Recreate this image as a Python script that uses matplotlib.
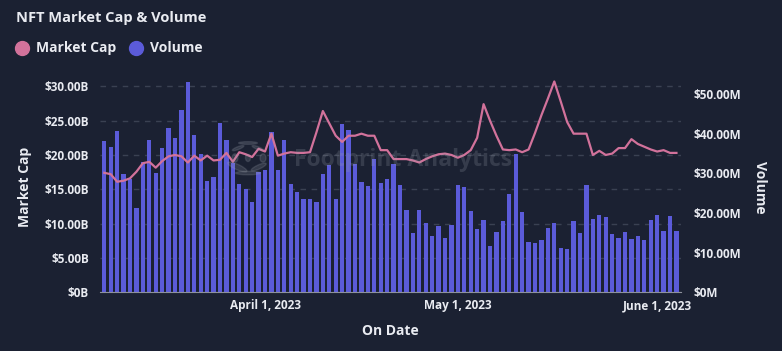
import matplotlib
matplotlib.use("Agg")
from matplotlib import pyplot as plt
from matplotlib.lines import Line2D
from matplotlib.patches import Ellipse
import numpy as np
import pandas as pd

# Dados diários (07/03/2023 a 04/06/2023)
datas = pd.date_range("2023-03-07", "2023-06-04", freq="D")

market_cap_b = [
    17.4, 17.2, 16.1, 16.25, 16.6, 17.56, 18.8, 19.0, 18.15, 19.1,
    19.8, 20.0, 19.8, 18.9, 19.9, 19.2, 19.9, 19.2, 19.3, 20.3,
    19.0, 20.4, 20.1, 19.7, 20.9, 20.5, 23.1, 19.9, 20.2, 20.4,
    20.3, 20.3, 20.4, 23.3, 26.4, 24.6, 22.8, 21.9, 22.8, 22.8,
    23.1, 22.8, 22.8, 20.7, 20.7, 19.4, 19.4, 19.4, 19.2, 18.9,
    19.4, 19.8, 20.1, 20.2, 20.0, 19.6, 20.0, 20.7, 22.5, 27.4,
    25.0, 22.8, 20.8, 20.7, 20.8, 20.4, 20.8, 23.2, 25.8, 28.2,
    30.7, 27.8, 24.8, 23.1, 23.1, 23.1, 20.0, 20.6, 20.0, 20.2,
    21.0, 21.0, 22.3, 21.6, 21.2, 20.8, 20.5, 20.7, 20.3, 20.3,
]

volume_m = [
    38.2, 36.7, 40.7, 29.9, 28.5, 21.3, 32.8, 38.5, 30.2, 36.4,
    41.5, 38.9, 46.0, 53.1, 39.7, 34.9, 28.1, 29.2, 42.7, 38.5,
    32.7, 27.4, 26.1, 22.9, 30.4, 30.9, 40.5, 30.9, 38.5, 27.4,
    25.4, 23.6, 23.6, 22.9, 29.9, 32.2, 23.6, 42.5, 41.0, 32.4,
    27.8, 26.9, 33.7, 27.7, 28.6, 32.3, 27.2, 20.9, 15.1, 20.9,
    17.6, 14.3, 16.7, 13.8, 17.1, 27.2, 26.7, 20.6, 15.9, 18.3,
    11.8, 15.3, 18.0, 24.9, 34.9, 20.4, 12.8, 12.5, 13.3, 16.3,
    17.6, 11.3, 11.0, 18.0, 15.1, 27.2, 18.5, 19.5, 19.1, 14.8,
    13.8, 15.3, 13.5, 14.3, 13.3, 18.2, 19.5, 15.6, 19.3, 15.6,
]

ticks_x = pd.to_datetime(["2023-04-01", "2023-05-01", "2023-06-01"])
ticks_mc = [0, 5, 10, 15, 20, 25, 30]
ticks_vol = [0, 10, 20, 30, 40, 50]

FUNDO = "#1b2132"
TEXTO = "#e9ebf1"
COR_BARRA = "#5b5bd9"
COR_LINHA = "#d2729b"
GRADE = "#3a4152"
MARCA = "#9aa0ab"
FONTE = ["Open Sans", "DejaVu Sans"]

plt.rcParams["font.family"] = FONTE
plt.rcParams["font.weight"] = "bold"

W, H = 782, 351
fig = plt.figure(figsize=(W / 100, H / 100), dpi=100, facecolor=FUNDO)

# Área do gráfico em pixels: x 100..681, y 80..292
esq, dir_, topo, base = 100, 681, 80, 292.3
rect = [esq / W, (H - base) / H, (dir_ - esq) / W, (base - topo) / H]

ax = fig.add_axes(rect)
ax.set_facecolor(FUNDO)
ax_vol = ax.twinx()
ax_linha = ax.twinx()

# Eixo do market cap (esquerda) com grade tracejada
ax.set_ylim(0, (base - topo) / 6.867)
ax.set_yticks(ticks_mc)
ax.set_yticklabels([f"${v}B" if v == 0 else f"${v:.2f}B" for v in ticks_mc])
ax.yaxis.grid(True, color=GRADE, linestyle=(0, (4, 4)), linewidth=1)
ax.tick_params(axis="y", length=0, pad=8, labelsize=8.5, labelcolor=TEXTO)

# Barras de volume (direita)
ax_vol.bar(datas, volume_m, width=0.68, color=COR_BARRA, zorder=3)
ax_vol.set_ylim(0, (base - topo) / 3.96)
ax_vol.set_yticks(ticks_vol)
ax_vol.set_yticklabels([f"${v}M" if v == 0 else f"${v:.2f}M" for v in ticks_vol])
ax_vol.tick_params(axis="y", length=0, pad=9, labelsize=8.5, labelcolor=TEXTO)

# Linha do market cap
ax_linha.plot(datas, market_cap_b, color=COR_LINHA, linewidth=1.6, zorder=4)
ax_linha.set_ylim(ax.get_ylim())
ax_linha.set_yticks([])

# Eixo x
inicio = datas[0] - pd.Timedelta(hours=16)
fim = datas[-1] + pd.Timedelta(hours=17)
for a in (ax, ax_vol, ax_linha):
    a.set_xlim(inicio, fim)
    for lado in ("top", "left", "right", "bottom"):
        a.spines[lado].set_visible(False)
ax.spines["bottom"].set_visible(True)
ax.spines["bottom"].set_color("#8d919c")
ax.set_xticks(ticks_x)
ax.set_xticklabels([f"{d.strftime('%B')} {d.day}, {d.year}" for d in ticks_x])
ax.tick_params(axis="x", length=0, pad=5, labelsize=8.5, labelcolor=TEXTO)
ax_vol.tick_params(axis="x", length=0, labelbottom=False)
ax_linha.tick_params(axis="x", length=0, labelbottom=False)

# Marca d'água (logo + texto), por cima das séries, translúcida
cx, cy = 248 / W, 1 - 158 / H
for ang, dist, tam in [(90, 15, 6), (45, 14, 5), (0, 15, 6), (-40, 14, 7),
                       (-90, 15, 8), (-140, 14, 9), (180, 13, 6), (135, 14, 5),
                       (0, 0, 5)]:
    dx = dist * np.cos(np.radians(ang)) / W
    dy = dist * np.sin(np.radians(ang)) / H
    fig.add_artist(Ellipse((cx + dx, cy + dy), tam / W, tam * 1.4 / H,
                           angle=ang, transform=fig.transFigure,
                           color=MARCA, alpha=0.2, zorder=10))
fig.text(403 / W, 1 - 160 / H, "Footprint Analytics", ha="center", va="center",
         color=MARCA, alpha=0.22, fontsize=16.5, fontweight="bold", zorder=10)

# Rótulos dos eixos
fig.text(25 / W, 1 - 187 / H, "Market Cap", rotation=90, ha="center", va="center",
         color=TEXTO, fontsize=10, fontweight="bold")
fig.text(760 / W, 1 - 187 / H, "Volume", rotation=270, ha="center", va="center",
         color=TEXTO, fontsize=10, fontweight="bold")
fig.text(390 / W, 1 - 331 / H, "On Date", ha="center", va="center",
         color=TEXTO, fontsize=10, fontweight="bold")

# Título e legenda
fig.text(16 / W, 1 - 18 / H, "NFT Market Cap & Volume", ha="left", va="center",
         color=TEXTO, fontsize=10.5, fontweight="bold")
for px, tx, cor, nome in [(22, 36, COR_LINHA, "Market Cap"), (136, 150, COR_BARRA, "Volume")]:
    fig.add_artist(Line2D([px / W], [1 - 48 / H], marker="o", markersize=10,
                          color=cor, linestyle="none", transform=fig.transFigure))
    fig.text(tx / W, 1 - 48 / H, nome, ha="left", va="center",
             color=TEXTO, fontsize=10, fontweight="bold")

fig.savefig("out.png", dpi=100, facecolor=FUNDO)
